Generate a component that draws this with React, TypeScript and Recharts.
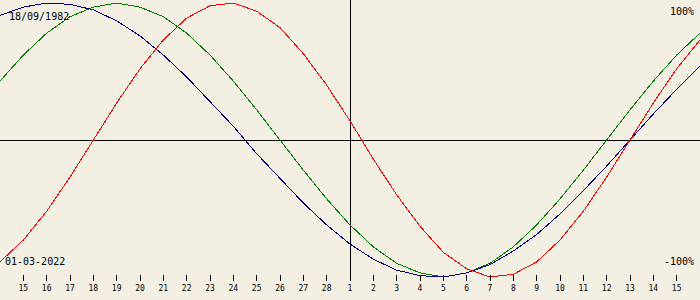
import React from "react";
import { LineChart, Line, XAxis, YAxis, ReferenceLine } from "recharts";

// days shown: 14 Feb .. 16 Mar 2022 (ticks for 15 Feb .. 15 Mar)
const tickLabels = [
  "15", "16", "17", "18", "19", "20", "21", "22", "23", "24", "25", "26", "27", "28",
  "1", "2", "3", "4", "5", "6", "7", "8", "9", "10", "11", "12", "13", "14", "15",
];

// values per day, starting one day before the first tick
const physical = [
  -0.89, -0.73, -0.52, -0.27, 0, 0.27, 0.52, 0.73, 0.89, 0.98, 1.0, 0.94, 0.82, 0.63, 0.4, 0.14,
  -0.14, -0.4, -0.63, -0.82, -0.94, -1.0, -0.98, -0.89, -0.73, -0.52, -0.27, 0, 0.27, 0.52, 0.73,
];
const emotional = [
  0.43, 0.62, 0.78, 0.9, 0.97, 1.0, 0.97, 0.9, 0.78, 0.62, 0.43, 0.22, 0, -0.22, -0.43, -0.62,
  -0.78, -0.9, -0.97, -1.0, -0.97, -0.9, -0.78, -0.62, -0.43, -0.22, 0, 0.22, 0.43, 0.62, 0.78,
];
const intellectual = [
  0.91, 0.97, 1.0, 0.99, 0.95, 0.87, 0.76, 0.62, 0.46, 0.28, 0.1, -0.1, -0.28, -0.46, -0.62, -0.76,
  -0.87, -0.95, -0.99, -1.0, -0.97, -0.91, -0.81, -0.69, -0.54, -0.37, -0.19, 0, 0.19, 0.37, 0.54,
];

const birthDate = "18/09/1982";
const currentDate = "01-03-2022";
const todayIndex = 14;

const data = physical.map((p, k) => ({
  day: k - 1,
  physical: p,
  emotional: emotional[k],
  intellectual: intellectual[k],
}));

const mono = "'DejaVu Sans Mono', monospace";

function DayTick(props: any) {
  const { x, y, payload } = props;
  return (
    <g>
      <line x1={x} x2={x} y1={y - 2} y2={y + 4} stroke="#000" shapeRendering="crispEdges" />
      <text x={x} y={y + 14} textAnchor="middle" fontSize={8} fontFamily={mono} fill="#000">
        {tickLabels[payload.value]}
      </text>
    </g>
  );
}

const label = (extra: React.CSSProperties): React.CSSProperties => ({
  position: "absolute",
  fontFamily: mono,
  fontSize: 10,
  lineHeight: "10px",
  color: "#000",
  ...extra,
});

export default function App() {
  return (
    <div style={{ position: "absolute", left: 0, top: 0, width: 700, height: 300, background: "#f3efe3" }}>
      <LineChart width={700} height={300} data={data} margin={{ top: 3, right: 0, bottom: 0, left: 0 }}>
        <XAxis
          dataKey="day"
          type="number"
          domain={[-1, 29]}
          ticks={tickLabels.map((_, i) => i)}
          axisLine={false}
          tickLine={false}
          tickSize={0}
          tickMargin={0}
          height={23}
          interval={0}
          tick={<DayTick />}
        />
        <YAxis hide domain={[-1, 1]} />
        <ReferenceLine y={0} stroke="#000" shapeRendering="crispEdges" />
        <ReferenceLine
          ifOverflow="visible"
          segment={[{ x: todayIndex, y: 1.03 }, { x: todayIndex, y: -1.03 }]}
          stroke="#000"
          shapeRendering="crispEdges"
        />
        <Line dataKey="emotional" stroke="#008000" strokeWidth={1} dot={false} shapeRendering="crispEdges" isAnimationActive={false} />
        <Line dataKey="intellectual" stroke="#000080" strokeWidth={1} dot={false} shapeRendering="crispEdges" isAnimationActive={false} />
        <Line dataKey="physical" stroke="#ff0000" strokeWidth={1} dot={false} shapeRendering="crispEdges" isAnimationActive={false} />
      </LineChart>
      <div style={label({ left: 9, top: 12 })}>{birthDate}</div>
      <div style={label({ left: 5, top: 257 })}>{currentDate}</div>
      <div style={label({ right: 6, top: 7 })}>100%</div>
      <div style={label({ right: 6, top: 257 })}>-100%</div>
    </div>
  );
}
